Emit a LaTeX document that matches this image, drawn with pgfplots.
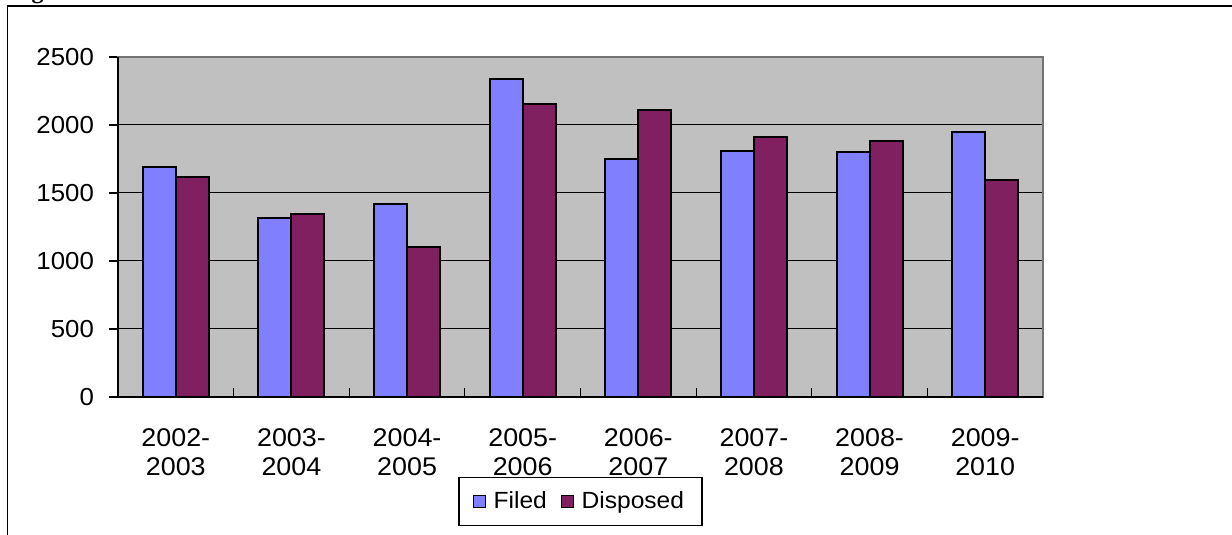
\documentclass[border=0pt]{standalone}
\usepackage{pgfplots}
\pgfplotsset{compat=1.18}
\usepackage{fontspec}
\setmainfont[FakeStretch=1.05]{Liberation Sans}
\newfontfamily\serifbf{Liberation Serif}
\definecolor{plotgray}{HTML}{C0C0C0}
\definecolor{filedc}{HTML}{8080FF}
\definecolor{dispc}{HTML}{802060}
\begin{document}
\begin{tikzpicture}
\useasboundingbox (0,0) rectangle (616pt,267.5pt);
\begin{scope}
\clip (0,0) rectangle (616pt,267.5pt);
\node[anchor=base west, inner sep=0pt, font=\serifbf\bfseries\fontsize{12}{14}\selectfont] at (5pt,268pt) {Figure};
\end{scope}
\draw[line width=0.9pt] (3.7pt,0) -- (3.7pt,264.5pt) -- (616pt,264.5pt);
\begin{axis}[
  at={(59pt,69pt)}, anchor=south west,
  scale only axis, width=462.5pt, height=170pt,
  xmin=-0.5, xmax=7.5, ymin=0, ymax=2500,
  ybar=0pt, bar width=16.5pt,
  ytick={0,500,1000,1500,2000,2500},
  ytick pos=left,
  ymajorgrids, grid style={black, line width=0.5pt},
  axis background/.style={fill=plotgray},
  axis line style={draw=gray!90!black, line width=1pt},
  tick align=outside, major tick length=4.5pt,
  ytick style={black, line width=0.6pt},
  xtick={0,1,2,3,4,5,6,7},
  xtick style={draw=none},
  xticklabels={{2002-\\2003},{2003-\\2004},{2004-\\2005},{2005-\\2006},{2006-\\2007},{2007-\\2008},{2008-\\2009},{2009-\\2010}},
  xticklabel style={align=center, font=\fontsize{12.8}{14.2}\selectfont, yshift=-8pt},
  yticklabel style={font=\fontsize{12.3}{14}\selectfont, xshift=-4pt},
  /pgf/number format/assume math mode=true,
  /pgf/number format/1000 sep={},
  scaled y ticks=false,
  legend columns=2,
  legend style={at={(0.5,-0.235)}, anchor=north, draw=black, line width=0.6pt,
    font=\fontsize{11.7}{14}\selectfont, inner xsep=7pt, inner ysep=5pt,
    /tikz/every even column/.append style={column sep=5pt}},
  legend image code/.code={\draw[#1, draw=black, line width=0.7pt] (0pt,-3pt) rectangle (6pt,3pt); \path (7.5pt,0);},
  clip=false,
]
\addplot[fill=filedc, draw=black, line width=1pt, bar shift=-8.25pt] coordinates {
(0,1690) (1,1315) (2,1420) (3,2335) (4,1747) (5,1807) (6,1798) (7,1950)};
\addplot[fill=dispc, draw=black, line width=1pt, bar shift=8.25pt] coordinates {
(0,1614) (1,1342) (2,1106) (3,2158) (4,2108) (5,1912) (6,1882) (7,1595)};
\legend{Filed,Disposed}
\draw[black, line width=0.8pt] (rel axis cs:0,1) -- (rel axis cs:0,0) -- (rel axis cs:1,0);
\draw[black, line width=0.6pt] (axis cs:0.5,0) -- ([yshift=4.5pt]axis cs:0.5,0);
\draw[black, line width=0.6pt] (axis cs:1.5,0) -- ([yshift=4.5pt]axis cs:1.5,0);
\draw[black, line width=0.6pt] (axis cs:2.5,0) -- ([yshift=4.5pt]axis cs:2.5,0);
\draw[black, line width=0.6pt] (axis cs:3.5,0) -- ([yshift=4.5pt]axis cs:3.5,0);
\draw[black, line width=0.6pt] (axis cs:4.5,0) -- ([yshift=4.5pt]axis cs:4.5,0);
\draw[black, line width=0.6pt] (axis cs:5.5,0) -- ([yshift=4.5pt]axis cs:5.5,0);
\draw[black, line width=0.6pt] (axis cs:6.5,0) -- ([yshift=4.5pt]axis cs:6.5,0);
\end{axis}
\end{tikzpicture}
\end{document}
